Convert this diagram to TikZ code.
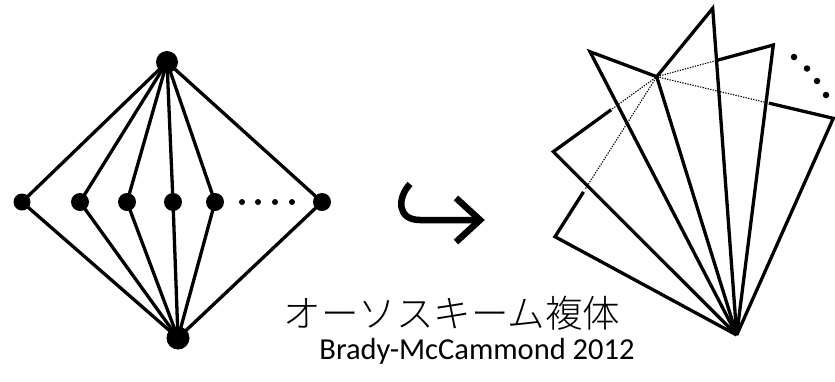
\documentclass[tikz,border=0pt]{standalone}
\usepackage{fontspec}
\setmainfont{Carlito}
\newfontfamily\cjk{Noto Sans CJK JP Light}
\usetikzlibrary{calc}
\begin{document}
\begin{tikzpicture}[x=1pt,y=-1pt,
  edge/.style={line width=3.3pt},
  hidden/.style={line width=1.1pt,dash pattern=on 1.3pt off 1.3pt},
  vtx/.style={circle,fill=black,inner sep=0pt,minimum size=#1},
  vtx/.default=18pt,
  dotmark/.style={circle,fill=black,inner sep=0pt,minimum size=6.5pt}]
\useasboundingbox (0,0) rectangle (835,381);
% ---------- left graph ----------
\node[vtx=22pt] (T) at (167,62) {};
\node[vtx=23pt] (B) at (178,338) {};
\node[vtx=17pt] (n0) at (22,202) {};
\node[vtx] (n1) at (80,202) {};
\node[vtx] (n2) at (127,202) {};
\node[vtx] (n3) at (173,202) {};
\node[vtx] (n4) at (215,202) {};
\node[vtx] (n5) at (322,202) {};
\foreach \i in {0,...,5} {
  \draw[edge] (T.center) -- (n\i.center) -- (B.center);
}
\foreach \x [count=\k] in {242,258,275,292} {
  \node[dotmark,minimum size=6pt] (ld\k) at (\x,202) {};
}
% ---------- hook arrow ----------
\coordinate (h0) at (410,184);
\coordinate (h1) at (420,220);
\coordinate (h2) at (477,220);
\coordinate (ha) at (456,198);
\coordinate (hb) at (456,242);
\draw[line width=6.5pt] (h0) .. controls (397,198) and (397,220) .. (h1) -- (h2);
\draw[line width=6.5pt,line join=miter] (ha) -- (480,220) -- (hb);
% ---------- fan ----------
\coordinate (A) at (736.7,335);
\coordinate (P) at (656.7,76.7);
\coordinate (V1) at (555,236.7);
\coordinate (V2) at (553.3,151.7);
\coordinate (V3) at (590,51.7);
\coordinate (V4) at (712.7,8.3);
\coordinate (V5) at (773.3,45);
\coordinate (V6) at (833.3,118.3);
\draw[edge] ($(V1)!0.28!(P)$) -- (V1) -- (A);
\draw[edge] ($(V2)!0.56!(P)$) -- (V2) -- (A);
\draw[edge] (P) -- (V3) -- (A);
\draw[edge] (P) -- (A);
\draw[edge] (P) -- (V4) -- (A);
\draw[edge] ($(V5)!0.48!(P)$) -- (V5) -- (A);
\draw[edge] ($(V6)!0.365!(P)$) -- (V6) -- (A);
\draw[hidden] ($(V1)!0.30!(P)$) -- (P);
\draw[hidden] ($(V2)!0.57!(P)$) -- (P);
\draw[hidden] ($(V5)!0.49!(P)$) -- (P);
\draw[hidden] ($(V6)!0.375!(P)$) -- (P);
\node[dotmark] (rd1) at (794,57) {};
\node[dotmark] (rd2) at (807,68.5) {};
\node[dotmark] (rd3) at (817,81) {};
\node[dotmark] (rd4) at (826,95) {};
% ---------- texts ----------
\node[inner sep=0pt,font=\cjk\fontsize{37.5}{40}\selectfont] (title) at (452,313) {オーソスキーム複体};
\node[inner sep=0pt,font=\fontsize{30.5}{34}\selectfont] (cite) at (477,351) {Brady-McCammond 2012};
\end{tikzpicture}
\end{document}
